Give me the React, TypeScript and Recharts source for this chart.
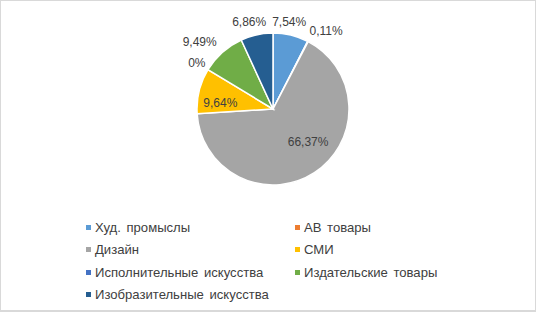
import { PieChart, Pie, Cell, Legend } from 'recharts';

const categories = [
    'Худ. промыслы',
    'АВ товары',
    'Дизайн',
    'СМИ',
    'Исполнительные искусства',
    'Издательские товары',
    'Изобразительные искусства',
];
const shares = [7.54, 0.11, 66.37, 9.64, 0, 9.49, 6.86];
const shareLabels = ['7,54%', '0,11%', '66,37%', '9,64%', '0%', '9,49%', '6,86%'];

const COLORS = ['#5B9BD5', '#ED7D31', '#A5A5A5', '#FFC000', '#4472C4', '#70AD47', '#255E91'];
// label placement: distance from centre (px) and angle nudge (deg), like excel's best fit
const LABEL_RADIUS = [88, 94, 48, 53, 89, 99, 90];
const LABEL_SHIFT = [3, -7, 14, 7, 0, 6, 3];
const FONT = '"Liberation Sans", Arial, sans-serif';

const data = categories.map((name, i) => ({ name, value: shares[i] }));

const RADIAN = Math.PI / 180;

const renderLabel = (props: any) => {
    const { cx, cy, midAngle, index } = props;
    const r = LABEL_RADIUS[index];
    const a = (midAngle + LABEL_SHIFT[index]) * RADIAN;
    const x = cx + r * Math.cos(-a);
    const y = cy + r * Math.sin(-a);
    return (
        <text
            x={x}
            y={y}
            textAnchor="middle"
            dominantBaseline="central"
            fill="#404040"
            fontSize={12}
            style={{ fontFamily: FONT }}
        >
            {shareLabels[index]}
        </text>
    );
};

const LegendContent = () => {
    return (
        <div
            style={{
                display: 'grid',
                gridTemplateColumns: '209px 200px',
                paddingLeft: 85,
                fontFamily: FONT,
                fontSize: 13.1,
                color: '#404040',
            }}
        >
            {categories.map((name, i) => (
                <div key={i} style={{ display: 'flex', alignItems: 'center', height: 22.5 }}>
                    <span
                        style={{
                            width: 5,
                            height: 5,
                            background: COLORS[i],
                            marginRight: 4,
                            display: 'inline-block',
                        }}
                    />
                    <span style={{ wordSpacing: 2 }}>{name}</span>
                </div>
            ))}
        </div>
    );
};

const App = () => {
    return (
        <div
            style={{
                position: 'absolute',
                left: 0,
                top: 0,
                width: 534,
                height: 309,
                border: '1px solid #d9d9d9',
                borderBottomWidth: 2,
                background: '#fff',
            }}
        >
            <PieChart width={534} height={309}>
                <Pie
                    data={data}
                    dataKey="value"
                    nameKey="name"
                    cx={267}
                    cy={103}
                    outerRadius={76}
                    startAngle={90}
                    endAngle={-270}
                    stroke="#fff"
                    strokeWidth={1.5}
                    label={renderLabel}
                    labelLine={false}
                    isAnimationActive={false}
                >
                    {data.map((_, index) => (
                        <Cell key={`cell-${index}`} fill={COLORS[index]} />
                    ))}
                </Pie>
                <Legend
                    layout="horizontal"
                    verticalAlign="bottom"
                    align="left"
                    wrapperStyle={{ left: 0, top: 215, width: 534 }}
                    content={<LegendContent />}
                />
            </PieChart>
        </div>
    );
};

export default App;
